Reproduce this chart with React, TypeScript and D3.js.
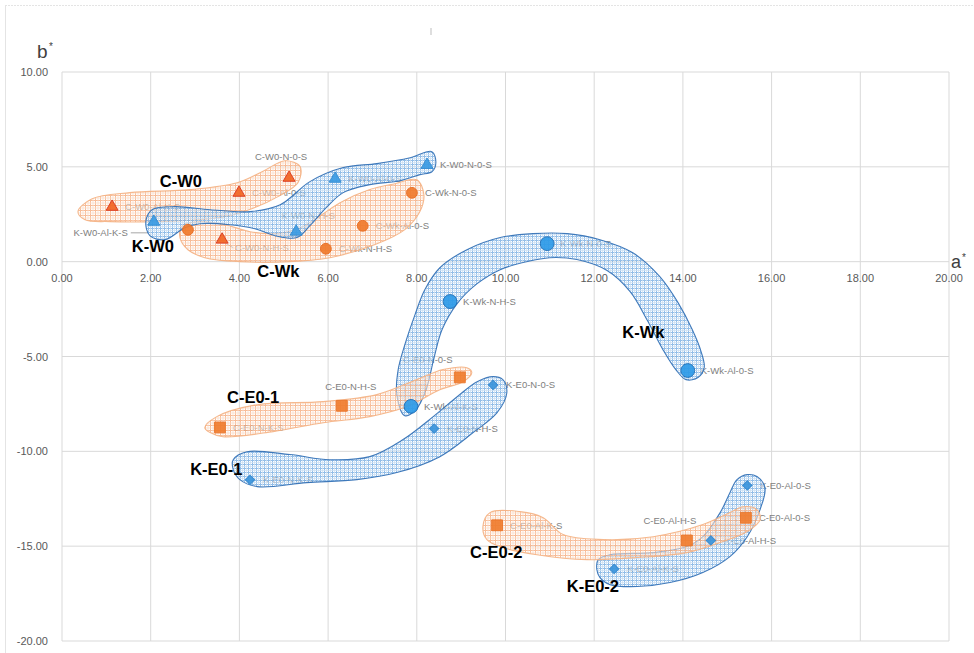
import React from "react";
import * as d3 from "d3";

const W = 974;
const H = 653;

// Axis ticks
const xTicks = [0, 2, 4, 6, 8, 10, 12, 14, 16, 18, 20];
const yTicks = [10, 5, 0, -5, -10, -15, -20];

// C-W0 (orange triangles)
const cW0Labels = ["C-W0-Al-K-S", "C-W0-Al-0-S", "C-W0-N-0-S", "C-W0-N-H-S"];
const cW0A = [1.13, 3.99, 5.12, 3.61];
const cW0B = [2.89, 3.63, 4.42, 1.16];

// K-W0 (blue triangles)
const kW0Labels = ["K-W0-Al-K-S", "K-W0-N-H-S", "K-W0-Al-0-S", "K-W0-N-0-S"];
const kW0A = [2.07, 5.28, 6.16, 8.23];
const kW0B = [2.1, 1.58, 4.37, 5.1];

// C-Wk (orange circles)
const cWkLabels = ["C-Wk-Al-K-S", "C-Wk-N-H-S", "C-Wk-Al-0-S", "C-Wk-N-0-S"];
const cWkA = [2.84, 5.95, 6.78, 7.89];
const cWkB = [1.68, 0.68, 1.89, 3.63];

// K-Wk (blue circles)
const kWkLabels = ["K-Wk-Al-K-S", "K-Wk-N-H-S", "K-Wk-N-0-S", "K-Wk-Al-0-S"];
const kWkA = [7.87, 8.75, 10.94, 14.11];
const kWkB = [-7.63, -2.1, 0.95, -5.74];

// C-E0 N (orange squares)
const cE01Labels = ["C-E0-N-K-S", "C-E0-N-H-S", "C-E0-N-0-S"];
const cE01A = [3.56, 6.31, 8.97];
const cE01B = [-8.74, -7.6, -6.1];

// K-E0 N (blue diamonds)
const kE01Labels = ["K-E0-N-K-S", "K-E0-N-H-S", "K-E0-N-0-S"];
const kE01A = [4.24, 8.39, 9.72];
const kE01B = [-11.5, -8.8, -6.5];

// C-E0 Al (orange squares)
const cE02Labels = ["C-E0-Al-K-S", "C-E0-Al-H-S", "C-E0-Al-0-S"];
const cE02A = [9.81, 14.09, 15.42];
const cE02B = [-13.9, -14.7, -13.5];

// K-E0 Al (blue diamonds)
const kE02Labels = ["K-E0-Al-K-S", "K-E0-Al-H-S", "K-E0-Al-0-S"];
const kE02A = [12.45, 14.63, 15.45];
const kE02B = [-16.2, -14.7, -11.8];

// Group outlines, as [a*, b*] vertices
const blobCW0: [number, number][] = [
  [0.36, 2.64], [0.68, 3.32], [1.53, 3.64], [2.89, 3.8], [3.95, 4.16], [4.51, 4.74],
  [5.03, 5.32], [5.37, 5.01], [5.32, 4.16], [4.87, 3.43], [4.35, 2.85], [3.79, 2.42],
  [3.11, 2.21], [2.21, 2.11], [1.08, 2.11], [0.52, 2.21],
];
const blobCWk: [number, number][] = [
  [2.66, 1.27], [2.71, 1.9], [3.11, 2.11], [3.68, 1.95], [4.24, 1.58], [4.8, 1.48],
  [5.37, 1.79], [5.82, 2.42], [6.27, 3.11], [6.94, 3.8], [7.51, 4.11], [8.0, 4.32],
  [8.16, 3.53], [8.07, 2.64], [7.73, 1.69], [7.06, 0.9], [6.04, 0.21], [5.14, 0.0],
  [4.01, 0.0], [3.22, 0.21], [2.84, 0.63],
];
const blobKW0: [number, number][] = [
  [1.89, 2.11], [2.03, 2.74], [2.55, 2.9], [3.34, 2.74], [4.24, 2.64], [4.92, 3.0],
  [5.59, 4.22], [6.34, 4.96], [7.1, 5.17], [7.85, 5.48], [8.34, 5.8], [8.43, 5.22],
  [8.34, 4.74], [8.07, 4.59], [7.62, 4.27], [6.94, 4.06], [6.34, 3.64], [5.98, 2.9],
  [5.59, 1.9], [5.3, 1.27], [4.8, 1.37], [4.35, 1.74], [3.79, 1.95], [3.11, 2.0],
  [2.77, 1.79], [2.32, 1.16], [1.98, 1.37],
];
const blobKWk: [number, number][] = [
  [7.73, -8.12], [7.55, -7.01], [7.58, -5.69], [7.73, -4.38], [7.96, -2.79], [8.18, -1.48],
  [8.52, -0.32], [9.13, 0.63], [9.88, 1.27], [10.62, 1.48], [11.39, 1.48], [12.13, 1.16],
  [12.87, 0.47], [13.48, -0.79], [13.89, -2.16], [14.21, -3.58], [14.41, -4.74], [14.48, -5.59],
  [14.34, -6.11], [14.07, -6.22], [13.84, -5.69], [13.55, -4.64], [13.19, -3.06], [12.81, -1.58],
  [12.29, -0.47], [11.61, 0.11], [11.0, 0.21], [10.48, 0.0], [9.88, -0.42], [9.36, -1.16],
  [8.91, -2.21], [8.57, -3.58], [8.39, -5.06], [8.21, -6.75], [7.98, -7.8],
];
const blobCE01: [number, number][] = [
  [3.22, -8.75], [3.49, -8.17], [4.4, -7.54], [5.89, -7.38], [7.1, -7.01], [8.0, -6.22],
  [8.59, -5.69], [9.13, -5.59], [9.24, -5.85], [9.04, -6.33], [8.52, -6.75], [7.78, -7.64],
  [6.94, -8.17], [5.89, -8.49], [4.76, -8.96], [3.63, -9.23], [3.34, -9.01],
];
const blobKE01: [number, number][] = [
  [3.86, -10.44], [4.17, -10.02], [5.14, -10.17], [6.04, -10.44], [6.94, -10.28], [7.69, -9.38],
  [8.37, -8.17], [8.91, -7.12], [9.36, -6.33], [9.72, -6.06], [9.94, -6.22], [10.03, -6.91],
  [9.81, -7.96], [9.27, -9.01], [8.52, -10.28], [7.55, -11.12], [6.65, -11.49], [5.52, -11.65],
  [4.4, -11.86], [4.01, -11.49], [3.86, -10.96],
];
const blobCE02: [number, number][] = [
  [9.49, -13.97], [9.65, -13.23], [10.33, -13.18], [10.85, -13.5], [11.3, -14.39], [12.2, -14.65],
  [13.33, -14.5], [14.45, -13.86], [15.06, -13.23], [15.36, -12.92], [15.67, -13.07], [15.74, -13.61],
  [15.45, -14.23], [14.84, -14.81], [14.09, -15.34], [12.97, -15.6], [11.84, -15.71], [10.71, -15.45],
  [9.94, -15.07], [9.58, -14.65],
];
const blobKE02: [number, number][] = [
  [12.06, -16.24], [12.09, -15.71], [12.36, -15.45], [13.33, -15.34], [14.09, -15.02], [14.45, -14.5],
  [14.84, -13.23], [15.06, -12.18], [15.22, -11.49], [15.45, -11.23], [15.67, -11.33], [15.85, -11.91],
  [15.74, -13.07], [15.45, -14.5], [15.06, -15.55], [14.45, -16.39], [13.71, -16.92], [12.97, -17.13],
  [12.36, -17.03], [12.13, -16.66],
];

// Group names and where they sit (a*, b*)
const groupNames = ["C-W0", "K-W0", "C-Wk", "K-Wk", "C-E0-1", "K-E0-1", "C-E0-2", "K-E0-2"];
const groupNameA = [2.68, 2.05, 4.88, 13.11, 4.31, 3.48, 9.79, 11.97];
const groupNameB = [3.95, 0.53, -0.79, -4.01, -7.43, -11.23, -15.6, -17.4];

type Family = "orange" | "blue";
type Shape = "triangle" | "circle" | "bigCircle" | "square" | "diamond";

const series: { labels: string[]; a: number[]; b: number[]; family: Family; shape: Shape }[] = [
  { labels: cW0Labels, a: cW0A, b: cW0B, family: "orange", shape: "triangle" },
  { labels: kW0Labels, a: kW0A, b: kW0B, family: "blue", shape: "triangle" },
  { labels: cWkLabels, a: cWkA, b: cWkB, family: "orange", shape: "circle" },
  { labels: kWkLabels, a: kWkA, b: kWkB, family: "blue", shape: "bigCircle" },
  { labels: cE01Labels, a: cE01A, b: cE01B, family: "orange", shape: "square" },
  { labels: kE01Labels, a: kE01A, b: kE01B, family: "blue", shape: "diamond" },
  { labels: cE02Labels, a: cE02A, b: cE02B, family: "orange", shape: "square" },
  { labels: kE02Labels, a: kE02A, b: kE02B, family: "blue", shape: "diamond" },
];

const blobs: { pts: [number, number][]; family: Family }[] = [
  { pts: blobCW0, family: "orange" },
  { pts: blobCWk, family: "orange" },
  { pts: blobKW0, family: "blue" },
  { pts: blobKWk, family: "blue" },
  { pts: blobCE01, family: "orange" },
  { pts: blobKE01, family: "blue" },
  { pts: blobKE02, family: "blue" },
  { pts: blobCE02, family: "orange" },
];

// Data-label placement (pixel offsets from the marker); default is to the right
const labelPlacement: Record<string, { dx: number; dy: number; anchor: string; leader?: boolean; hidden?: boolean }> = {
  "C-W0-N-0-S": { dx: -8, dy: -18, anchor: "middle" },
  "C-W0-N-H-S": { dx: 13, dy: 11, anchor: "start", leader: true },
  "K-W0-N-H-S": { dx: 12, dy: -13, anchor: "middle" },
  "K-W0-Al-K-S": { dx: -26, dy: 14, anchor: "end", leader: true },
  "C-Wk-Al-K-S": { dx: 13, dy: 3.5, anchor: "start", hidden: true },
  "C-E0-N-H-S": { dx: 9, dy: -16, anchor: "middle" },
  "C-E0-N-0-S": { dx: -32, dy: -14, anchor: "middle" },
  "C-E0-Al-H-S": { dx: -17, dy: -16, anchor: "middle" },
};

const markerStyle: Record<Family, Record<string, { fill: string; stroke: string }>> = {
  orange: {
    triangle: { fill: "#F26522", stroke: "#D9341A" },
    circle: { fill: "#F07A2C", stroke: "#E86A1E" },
    square: { fill: "#F07C2E", stroke: "#EA7326" },
  },
  blue: {
    triangle: { fill: "#3A9BE3", stroke: "#2F8AD2" },
    bigCircle: { fill: "#2E9BE8", stroke: "#1E6FB8" },
    diamond: { fill: "#3A94DC", stroke: "#2F86CF" },
  },
};

const symbolFor = (shape: Shape) => {
  switch (shape) {
    case "triangle":
      return d3.symbol().type(d3.symbolTriangle).size(62)();
    case "circle":
      return d3.symbol().type(d3.symbolCircle).size(92)();
    case "bigCircle":
      return d3.symbol().type(d3.symbolCircle).size(150)();
    case "square":
      return d3.symbol().type(d3.symbolSquare).size(118)();
    case "diamond":
      return d3.symbol().type(d3.symbolSquare).size(44)();
  }
};

export default function App() {
  const x = d3.scaleLinear().domain([0, 20]).range([62, 949]);
  const y = d3.scaleLinear().domain([-20, 10]).range([641, 72]);

  const blobPath = d3
    .line<[number, number]>()
    .x((d) => x(d[0]))
    .y((d) => y(d[1]))
    .curve(d3.curveCatmullRomClosed.alpha(0.5));

  const grid = "#D9D9D9";
  const tickFont = "'Liberation Sans', Arial, sans-serif";

  const points = series.flatMap((s, si) =>
    s.labels.map((lab, i) => ({
      key: `${si}-${i}`,
      lab,
      px: x(s.a[i]),
      py: y(s.b[i]),
      family: s.family,
      shape: s.shape,
    }))
  );

  return (
    <svg
      width={W}
      height={H}
      viewBox={`0 0 ${W} ${H}`}
      style={{ position: "absolute", left: 0, top: 0, background: "#fff" }}
    >
      <defs>
        <pattern id="hatchOrange" width={5} height={5} patternUnits="userSpaceOnUse">
          <rect width={5} height={5} fill="rgba(255,255,255,0.55)" />
          <path d="M0 0.5H5M0.5 0V5" stroke="#F5AC80" strokeWidth={1} />
          <path d="M0 3H5M3 0V5" stroke="#FAD3B9" strokeWidth={0.8} />
        </pattern>
        <pattern id="hatchBlue" width={4} height={4} patternUnits="userSpaceOnUse">
          <rect width={4} height={4} fill="rgba(255,255,255,0.5)" />
          <path d="M0 0.5H4M0.5 0V4" stroke="#78AEE2" strokeWidth={1} />
          <path d="M0 2.5H4M2.5 0V4" stroke="#C0D9F1" strokeWidth={0.8} />
        </pattern>
      </defs>

      {/* chart frame edges */}
      <line x1={5} y1={5.5} x2={W} y2={5.5} stroke="#E4E4E4" strokeDasharray="2 1" />
      <line x1={5.5} y1={5} x2={5.5} y2={H} stroke="#E4E4E4" />
      <line x1={431} y1={28} x2={431} y2={35} stroke="#BDBDBD" strokeWidth={1} />

      {/* gridlines */}
      {xTicks.map((t) => (
        <line key={`gx${t}`} x1={x(t)} x2={x(t)} y1={y(10)} y2={y(-20)} stroke={grid} strokeWidth={1} />
      ))}
      {yTicks.map((t) => (
        <line key={`gy${t}`} x1={x(0)} x2={x(20)} y1={y(t)} y2={y(t)} stroke={grid} strokeWidth={1} />
      ))}

      {/* tick labels */}
      {yTicks.map((t) => (
        <text
          key={`ty${t}`}
          x={48}
          y={y(t) + 4}
          textAnchor="end"
          fontFamily={tickFont}
          fontSize={11}
          fill="#595959"
        >
          {t.toFixed(2)}
        </text>
      ))}
      {xTicks.map((t) => (
        <text
          key={`tx${t}`}
          x={x(t)}
          y={y(0) + 20}
          textAnchor="middle"
          fontFamily={tickFont}
          fontSize={11}
          fill="#595959"
        >
          {t.toFixed(2)}
        </text>
      ))}

      {/* axis titles */}
      <text x={37} y={58} fontFamily={tickFont} fontSize={19} fill="#404040">
        b
      </text>
      <text x={49} y={50} fontFamily={tickFont} fontSize={10} fill="#404040">
        *
      </text>
      <text x={951} y={268} fontFamily={tickFont} fontSize={18} fill="#404040">
        a
      </text>
      <text x={962} y={261} fontFamily={tickFont} fontSize={10} fill="#404040">
        *
      </text>

      {/* data labels */}
      {points.map((p) => {
        const pl = labelPlacement[p.lab] || { dx: 13, dy: 3.5, anchor: "start" };
        if (pl.hidden) return null;
        return (
          <g key={`l${p.key}`}>
            <text
              x={p.px + pl.dx}
              y={p.py + pl.dy}
              textAnchor={pl.anchor as any}
              fontFamily={tickFont}
              fontSize={9.5}
              fill="#808080"
            >
              {p.lab}
            </text>
            {pl.leader && pl.anchor === "end" && (
              <line
                x1={p.px + pl.dx + 3}
                y1={p.py + pl.dy - 3}
                x2={p.px - 6}
                y2={p.py + pl.dy - 3}
                stroke="#A6A6A6"
              />
            )}
            {pl.leader && pl.anchor === "start" && (
              <line x1={p.px + 4} y1={p.py + 4} x2={p.px + pl.dx - 2} y2={p.py + pl.dy - 3} stroke="#A6A6A6" />
            )}
          </g>
        );
      })}

      {/* group outlines */}
      {blobs.map((b, i) => (
        <path
          key={`blob${i}`}
          d={blobPath(b.pts) as string}
          fill={b.family === "orange" ? "url(#hatchOrange)" : "url(#hatchBlue)"}
          fillOpacity={0.8}
          stroke={b.family === "orange" ? "#F4B183" : "#2E6DB4"}
          strokeWidth={1.1}
          strokeOpacity={0.9}
        />
      ))}

      {/* markers */}
      {points.map((p) => {
        const st = markerStyle[p.family][p.shape];
        const rot = p.shape === "diamond" ? 45 : 0;
        return (
          <path
            key={`m${p.key}`}
            d={symbolFor(p.shape) as string}
            transform={`translate(${p.px},${p.py}) rotate(${rot})`}
            fill={st.fill}
            stroke={st.stroke}
            strokeWidth={1}
            opacity={0.92}
          />
        );
      })}

      {/* group names */}
      {groupNames.map((g, i) => (
        <text
          key={g}
          x={x(groupNameA[i])}
          y={y(groupNameB[i])}
          textAnchor="middle"
          fontFamily={tickFont}
          fontWeight="bold"
          fontSize={16.5}
          fill="#000"
        >
          {g}
        </text>
      ))}
    </svg>
  );
}
